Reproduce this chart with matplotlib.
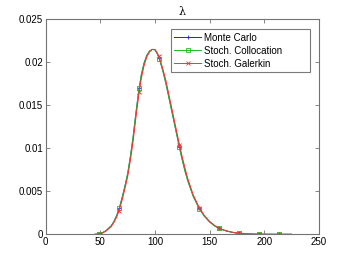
import matplotlib
matplotlib.use("Agg")
import matplotlib.pyplot as plt
from matplotlib.lines import Line2D

plt.rcParams['font.family'] = ['Liberation Sans', 'DejaVu Sans']

# dense curves
x_curve = [45, 50, 55, 60, 62.5, 65, 67.5, 70, 72.5, 75, 77.5, 80, 82.5, 85,
           87.5, 90, 92.5, 95, 97.5, 100, 102.5, 105, 107.5, 110, 112.5, 115,
           117.5, 120, 122.5, 125, 127.5, 130, 135, 140, 145, 150, 155, 160,
           165, 170, 175, 180, 185, 190, 200, 210, 225]
y_mc = [0, 0.00005, 0.0004, 0.0010, 0.0015, 0.0022, 0.0031, 0.0043, 0.0056,
        0.0070, 0.0090, 0.0113, 0.0140, 0.0165, 0.0185, 0.0199, 0.0208, 0.0213,
        0.0215, 0.02145, 0.0209, 0.0200, 0.0189, 0.0176, 0.0161, 0.0146, 0.0131,
        0.0116, 0.0101, 0.0087, 0.0074, 0.0063, 0.00445, 0.00315, 0.00215,
        0.00145, 0.00095, 0.00062, 0.0004, 0.00025, 0.00014, 0.00008, 0.00004,
        0.00002, 0.000005, 0, 0]
y_sc = [0, 0.00005, 0.0004, 0.0010, 0.0015, 0.0022, 0.0031, 0.0043, 0.0056,
        0.0071, 0.0091, 0.0114, 0.0141, 0.0166, 0.0186, 0.0199, 0.0208, 0.0213,
        0.0215, 0.02145, 0.0209, 0.0200, 0.0188, 0.0175, 0.0160, 0.0145, 0.0130,
        0.0115, 0.0100, 0.0086, 0.0073, 0.0062, 0.0044, 0.0031, 0.00212,
        0.00143, 0.00094, 0.00061, 0.0004, 0.00025, 0.00014, 0.00008, 0.00004,
        0.00002, 0.000005, 0, 0]
y_sg = [0, 0.00004, 0.00035, 0.0009, 0.0014, 0.0020, 0.0029, 0.0040, 0.0053,
        0.0067, 0.0086, 0.0108, 0.0135, 0.0160, 0.0181, 0.0196, 0.0206, 0.0212,
        0.0215, 0.0215, 0.0210, 0.0202, 0.0191, 0.0179, 0.0164, 0.0149, 0.0134,
        0.0119, 0.0104, 0.0090, 0.0077, 0.0065, 0.0046, 0.00325, 0.00222,
        0.0015, 0.00099, 0.00065, 0.00042, 0.00026, 0.00015, 0.00009, 0.00005,
        0.00002, 0.000005, 0, 0]

# marker samples
x_mark = [48.5, 66.8, 85.1, 103.4, 121.7, 140.0, 158.3, 176.6, 194.9, 213.2]
mc_mark = [0, 0.0031, 0.0170, 0.0205, 0.0102, 0.0030, 0.0007, 0.00012, 0.00001, 0]
sc_mark = [0, 0.0030, 0.0170, 0.0204, 0.0101, 0.0029, 0.0007, 0.00012, 0.00001, 0]
sg_mark = [0, 0.0027, 0.0165, 0.0207, 0.0104, 0.0031, 0.00075, 0.00013, 0.00001, 0]

labels = ["Monte Carlo", "Stoch. Collocation", "Stoch. Galerkin"]
colors = ["#2020ff", "#20c020", "#ff3030"]
markers = ["+", "s", "x"]

fig = plt.figure(figsize=(3.52, 2.64), dpi=100)
ax = fig.add_axes([0.13, 0.1125, 0.7756, 0.8144])

for yc, ym, c, m in zip([y_mc, y_sc, y_sg], [mc_mark, sc_mark, sg_mark], colors, markers):
    ax.plot(x_curve, yc, color=c, lw=0.7)
    ax.plot(x_mark, ym, ls="none", marker=m, color=c, mfc="none", ms=3.5, mew=0.6)

ax.set_xlim(0, 250)
ax.set_ylim(0, 0.025)
ax.set_xticks([0, 50, 100, 150, 200, 250])
ax.set_yticks([0, 0.005, 0.01, 0.015, 0.02, 0.025])
ax.set_yticklabels(["0", "0.005", "0.01", "0.015", "0.02", "0.025"])
ax.tick_params(direction="in", length=3, width=0.6, top=True, right=True,
               labelsize=7, pad=2, colors="0.45", labelcolor="black")
for s in ax.spines.values():
    s.set_color("0.45")
    s.set_linewidth(0.8)

ax.set_title("λ", fontsize=8, family=["DejaVu Serif"], pad=3)

handles = [Line2D([], [], color=c, lw=0.7, marker=m, mfc="none", ms=3.5, mew=0.6)
           for c, m in zip(colors, markers)]
leg = ax.legend(handles, labels, loc="upper left",
                bbox_to_anchor=(0.459, 0.764, 0.509, 0.189), mode="expand",
                fontsize=7, frameon=True, fancybox=False, handlelength=2.7,
                handletextpad=0.3, borderpad=0.35, labelspacing=0.3,
                borderaxespad=0)
leg.get_frame().set_edgecolor("0.35")
leg.get_frame().set_linewidth(0.8)

fig.savefig("out.png", dpi=100)
